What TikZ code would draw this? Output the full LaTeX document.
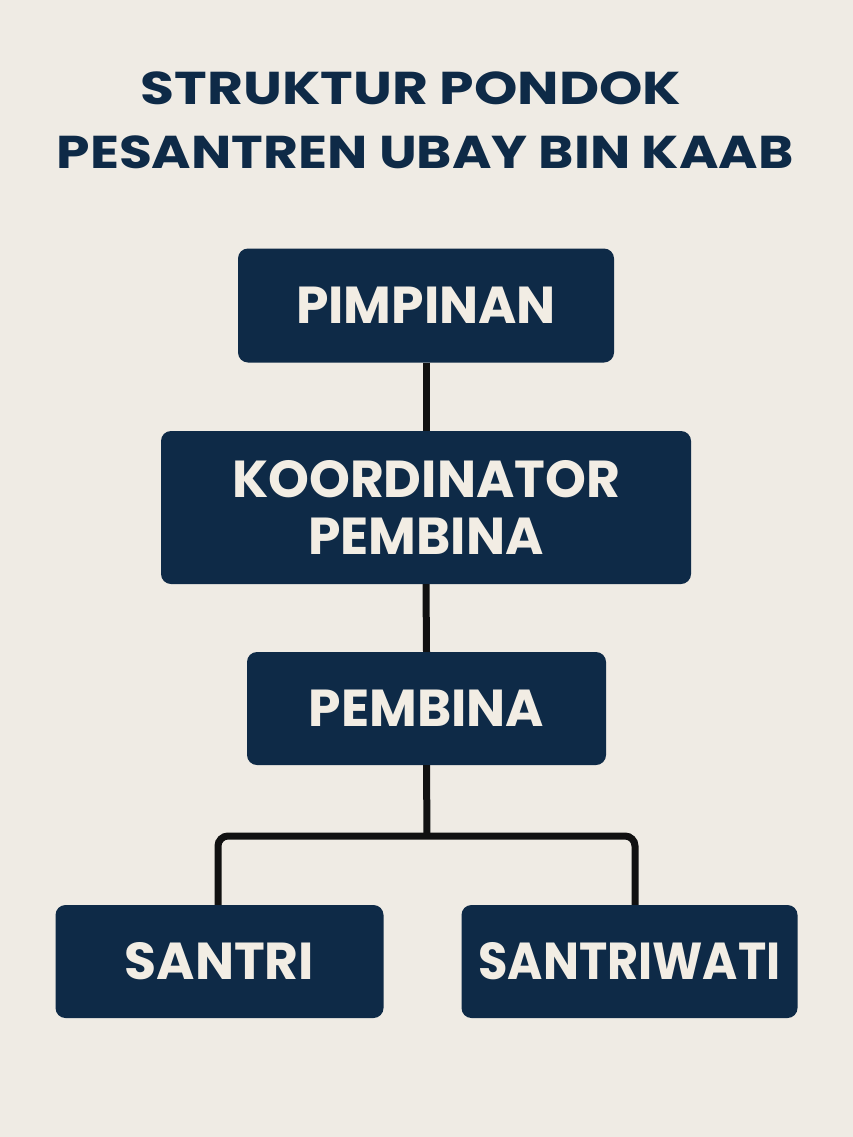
\documentclass[tikz,border=0pt]{standalone}
\usepackage{fontspec}
\setmainfont{Poppins}
\definecolor{bg}{HTML}{EFEBE4}
\definecolor{navy}{HTML}{0E2A47}
\definecolor{cream}{HTML}{F2EDE4}
\definecolor{linec}{HTML}{111111}
\begin{document}
\begin{tikzpicture}[x=1pt,y=-1pt,
  box/.style={rectangle, rounded corners=10pt, fill=navy, text=cream, inner sep=0pt, align=center,
    font=\bfseries\fontsize{52}{57}\selectfont},
  titletext/.style={text=navy, inner sep=0pt, anchor=base, font=\bfseries\fontsize{46}{50}\selectfont},
  link/.style={draw=linec, line width=7pt}]
\fill[bg] (0,0) rectangle (853,1137);
\useasboundingbox (0,0) rectangle (853,1137);
\node[titletext] (t1) at (411,105) {\scalebox{1.2}[1]{STRUKTUR PONDOK}};
\node[titletext] (t2) at (425,168) {\scalebox{1.165}[1]{PESANTREN UBAY BIN KAAB}};
\node[box, minimum width=376pt, minimum height=114pt] (pim) at (426,305.5) {PIMPINAN};
\node[box, minimum width=530pt, minimum height=153pt] (koor) at (426,507.5) {KOORDINATOR\\PEMBINA};
\node[box, minimum width=359pt, minimum height=113pt] (pem) at (426.5,708.5) {PEMBINA};
\node[box, minimum width=328pt, minimum height=113pt] (san) at (219.5,961.5) {SANTRI};
\node[box, minimum width=336pt, minimum height=113pt] (saw) at (629.5,961.5) {\scalebox{0.92}[1]{SANTRIWATI}};
\coordinate (bar) at (427,836);
\coordinate (lx) at (218,0);
\coordinate (rx) at (635,0);
\draw[link] (pim.south) -- (koor.north);
\draw[link] (koor.south) -- (pem.north);
\draw[link] (pem.south) -- (bar);
\draw[link, rounded corners=10pt] (lx |- san.north) |- (bar) -| (rx |- saw.north);
\end{tikzpicture}
\end{document}
